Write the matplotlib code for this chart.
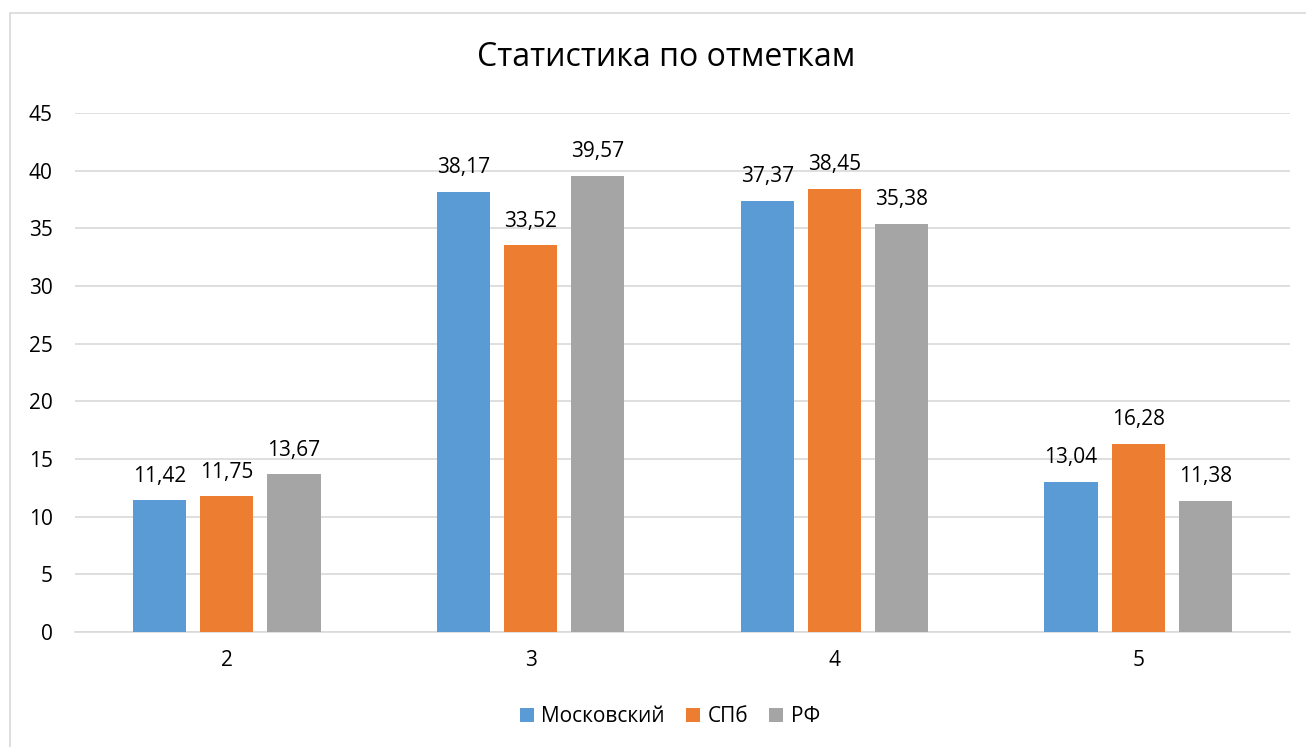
import matplotlib
matplotlib.use("Agg")
import matplotlib.pyplot as plt
import numpy as np
from matplotlib.patches import Rectangle

categories = ["2", "3", "4", "5"]
series_names = ["Московский", "СПб", "РФ"]
moscow = [11.42, 38.17, 37.37, 13.04]
spb = [11.75, 33.52, 38.45, 16.28]
rf = [13.67, 39.57, 35.38, 11.38]
labels_moscow = ["11,42", "38,17", "37,37", "13,04"]
labels_spb = ["11,75", "33,52", "38,45", "16,28"]
labels_rf = ["13,67", "39,57", "35,38", "11,38"]
yticks = [0, 5, 10, 15, 20, 25, 30, 35, 40, 45]

colors = ["#5B9BD5", "#ED7D31", "#A5A5A5"]
plt.rcParams['font.family'] = ['Open Sans', 'DejaVu Sans']
txt_color = "#000000"
fs = 15

fig = plt.figure(figsize=(13.06, 7.47), dpi=100)
fig.patches.append(Rectangle((10/1306, -0.01), 1.2, 1 - 13/747 + 0.01, transform=fig.transFigure,
                             fill=False, edgecolor="#D9D9D9", linewidth=1.2))
ax = fig.add_axes([75/1306, (747-632)/747, (1290-75)/1306, (632-113)/747])

x = np.arange(len(categories))
w = 0.175
off = 0.221
all_vals = [moscow, spb, rf]
all_labels = [labels_moscow, labels_spb, labels_rf]
for i, (vals, labs, name, c) in enumerate(zip(all_vals, all_labels, series_names, colors)):
    pos = x + (i - 1) * off
    ax.bar(pos, vals, width=w, color=c, label=name, zorder=3)
    for p, v, l in zip(pos, vals, labs):
        ax.annotate(l, (p, v), xytext=(0, 13.5), textcoords="offset points",
                    ha="center", va="baseline", fontsize=fs, color=txt_color)

ax.set_xlim(-0.5, len(categories) - 0.5)
ax.set_ylim(0, 45)
ax.set_yticks(yticks)
ax.set_yticklabels([str(t) for t in yticks], fontsize=fs, color=txt_color)
ax.set_xticks(x)
ax.set_xticklabels(categories, fontsize=fs, color=txt_color)
ax.tick_params(axis="both", length=0)
ax.tick_params(axis="y", pad=16)
ax.tick_params(axis="x", pad=13)
ax.grid(axis="y", color="#D9D9D9", linewidth=1.2, zorder=0)
for s in ["top", "right", "left"]:
    ax.spines[s].set_visible(False)
ax.spines["bottom"].set_color("#D9D9D9")
ax.spines["bottom"].set_linewidth(1.2)

fig.text(666/1306, 1 - 58/747, "Статистика по отметкам", ha="center", va="center",
         fontsize=23, color=txt_color)

leg = fig.legend(loc="center", bbox_to_anchor=(670/1306, 1 - 717/747), ncol=3, frameon=False,
                 fontsize=fs, handlelength=0.67, handleheight=0.67, handletextpad=0.38,
                 columnspacing=1.0)
for t in leg.get_texts():
    t.set_color(txt_color)

fig.savefig("out.png", dpi=100, facecolor="white")
